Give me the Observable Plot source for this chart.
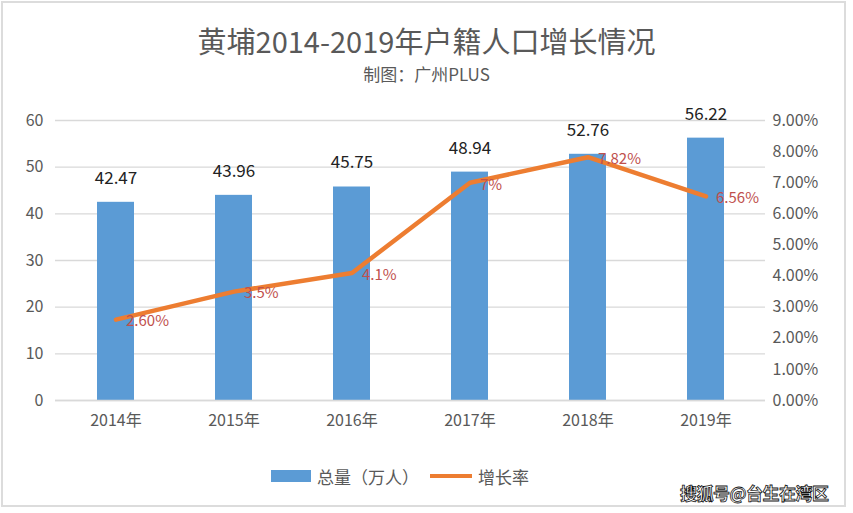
<!DOCTYPE html>
<html><head><meta charset="utf-8">
<script src="https://cdn.jsdelivr.net/npm/d3@7"></script>
<script src="https://cdn.jsdelivr.net/npm/@observablehq/plot@0.6"></script>
<style>
html,body{margin:0;padding:0;background:#fff;}
body{width:853px;height:513px;position:relative;overflow:hidden;font-family:"Noto Sans CJK SC","Noto Sans",sans-serif;}
#frame{position:absolute;left:1px;top:1px;width:845px;height:506px;border:2px solid #dcdcdc;box-sizing:border-box;}
#chart{position:absolute;left:0;top:0;}
#title{position:absolute;left:0;width:853px;top:20px;text-align:center;font-size:29px;color:#595959;line-height:40px;}
#subtitle{position:absolute;left:0;width:853px;top:61px;text-align:center;font-size:17px;color:#595959;line-height:26px;}
.leg{position:absolute;top:465px;font-size:17px;color:#595959;line-height:24px;}
#wm{position:absolute;left:680px;top:480px;font-size:17px;font-weight:bold;color:#fff;-webkit-text-stroke:0.8px #111;letter-spacing:-0.5px;}
</style></head>
<body>
<div id="frame"></div>
<div id="chart"></div>
<div id="title">黄埔2014-2019年户籍人口增长情况</div>
<div id="subtitle">制图：广州PLUS</div>
<div class="leg" style="left:271px;top:470px;width:40px;height:12px;background:#5B9BD5"></div>
<div class="leg" style="left:317px;">总量（万人）</div>
<div class="leg" style="left:430px;top:474px;width:42px;height:4px;background:#ED7D31"></div>
<div class="leg" style="left:478px;">增长率</div>
<div id="wm">搜狐号@台生在湾区</div>
<script>
const years = ["2014年","2015年","2016年","2017年","2018年","2019年"];
const totals = [42.47, 43.96, 45.75, 48.94, 52.76, 56.22];
const totalLabels = ["42.47","43.96","45.75","48.94","52.76","56.22"];
const rates = [2.60, 3.5, 4.1, 7, 7.82, 6.56];
const rateLabels = ["2.60%","3.5%","4.1%","7%","7.82%","6.56%"];
const leftTicks = [0,10,20,30,40,50,60];
const rightTicks = [0,1,2,3,4,5,6,7,8,9];
const rateMax = 9, totalMax = 60;
const k = totalMax / rateMax;

const data = years.map((y,i)=>({year:y,total:totals[i],tl:totalLabels[i],rate:rates[i],rs:rates[i]*k,rl:rateLabels[i]}));

const chart = Plot.plot({
  width: 853, height: 513,
  marginTop: 120, marginBottom: 113, marginLeft: 55, marginRight: 88,
  style: {fontFamily: "'Noto Sans CJK SC', 'Noto Sans', sans-serif", color: "#595959", background: "transparent"},
  x: {domain: years, type: "band", paddingInner: 0.69, paddingOuter: 0.345, label: null},
  y: {domain: [0, totalMax], label: null},
  marks: [
    Plot.gridY(leftTicks, {stroke: "#d9d9d9", strokeOpacity: 1, strokeWidth: 1.3}),
    Plot.axisY(leftTicks, {anchor: "left", tickSize: 0, tickPadding: 12, fontSize: 16, label: null}),
    Plot.axisY(rightTicks.map(r => r*k), {anchor: "right", tickSize: 0, tickPadding: 7, fontSize: 16, label: null,
      tickFormat: d => (Math.round(d / k * 100) / 100).toFixed(2) + "%"}),
    Plot.axisX({tickSize: 0, tickPadding: 14, fontSize: 16, label: null}),
    Plot.barY(data, {x: "year", y: "total", fill: "#5B9BD5"}),
    Plot.ruleY([0], {stroke: "#d9d9d9", strokeWidth: 1.5}),
    Plot.text(data, {x: "year", y: "total", text: "tl", dy: -24, fontSize: 17, fill: "#222"}),
    Plot.line(data, {x: "year", y: "rs", stroke: "#ED7D31", strokeWidth: 4.5, strokeLinejoin: "round", strokeLinecap: "round"}),
    Plot.text(data, {x: "year", y: "rs", text: "rl", dx: 10, dy: 2, textAnchor: "start", fontSize: 15, fill: "#C0504D"})
  ]
});
document.getElementById("chart").appendChild(chart);
</script>
</body></html>
